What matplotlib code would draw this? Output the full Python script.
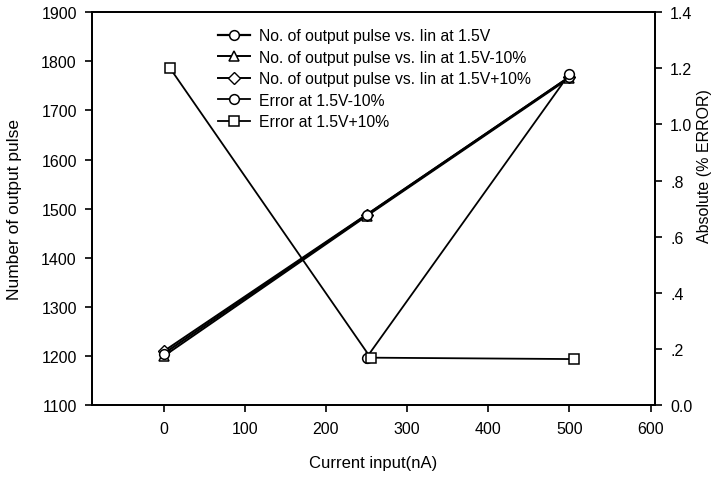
import matplotlib
matplotlib.use('Agg')
import matplotlib.pyplot as plt
from matplotlib import rcParams
rcParams['font.family'] = 'sans-serif'
rcParams['font.sans-serif'] = ['Liberation Sans', 'DejaVu Sans']
rcParams['font.size'] = 11

# data
current = [0, 250, 500]
pulse_15 = [1205, 1487, 1768]
pulse_minus = [1200, 1485, 1766]
pulse_plus = [1210, 1488, 1768]

err_minus_x = [250, 500]
err_minus = [0.17, 1.18]
err_plus_x = [8, 255, 505]
err_plus = [1.20, 0.17, 0.165]

labels = ['No. of output pulse vs. Iin at 1.5V',
          'No. of output pulse vs. Iin at 1.5V-10%',
          'No. of output pulse vs. Iin at 1.5V+10%',
          'Error at 1.5V-10%',
          'Error at 1.5V+10%']
right_ticks = [0.0, 0.2, 0.4, 0.6, 0.8, 1.0, 1.2, 1.4]
right_ticklabels = ['0.0', '.2', '.4', '.6', '.8', '1.0', '1.2', '1.4']

fig = plt.figure(figsize=(7.14, 4.81), dpi=100)
ax = fig.add_axes([0.129, 0.155, 0.788, 0.818])
ax2 = ax.twinx()

mk = dict(markerfacecolor='white', markeredgecolor='black', markersize=7,
          markeredgewidth=1.1, color='black')
l3, = ax.plot(current, pulse_plus, marker='D', lw=1.4, markersize=6,
              markerfacecolor='white', markeredgecolor='black', color='black')
l2, = ax.plot(current, pulse_minus, marker='^', lw=1.4, **mk)
l1, = ax.plot(current, pulse_15, marker='o', lw=1.6, **mk)
l4, = ax2.plot(err_minus_x, err_minus, marker='o', lw=1.3, **mk)
l5, = ax2.plot(err_plus_x, err_plus, marker='s', lw=1.3, **mk)

ax.set_xlim(-88, 605)
ax.set_ylim(1100, 1900)
ax2.set_ylim(0, 1.4)
ax.set_xticks([0, 100, 200, 300, 400, 500, 600])
ax.set_yticks(range(1100, 2000, 100))
ax2.set_yticks(right_ticks)
ax2.set_yticklabels(right_ticklabels)

ax.set_xlabel('Current input(nA)', fontsize=12, labelpad=14)
ax.set_ylabel('Number of output pulse', fontsize=12.5, labelpad=14)
fig.text(0.976, 0.655, 'Absolute (% ERROR)', rotation=90, fontsize=11.5,
         ha='left', va='center')

for a in (ax, ax2):
    a.tick_params(direction='out', length=5, width=1.2, pad=6, labelsize=11.5)
    for s in a.spines.values():
        s.set_linewidth(1.3)

leg = ax.legend([l1, l2, l3, l4, l5], labels, loc='upper left',
                bbox_to_anchor=(0.213, 0.975), frameon=False, fontsize=11.3,
                handlelength=2.0, handletextpad=0.6, labelspacing=0.42,
                borderaxespad=0)

fig.savefig('out.png', dpi=100)
